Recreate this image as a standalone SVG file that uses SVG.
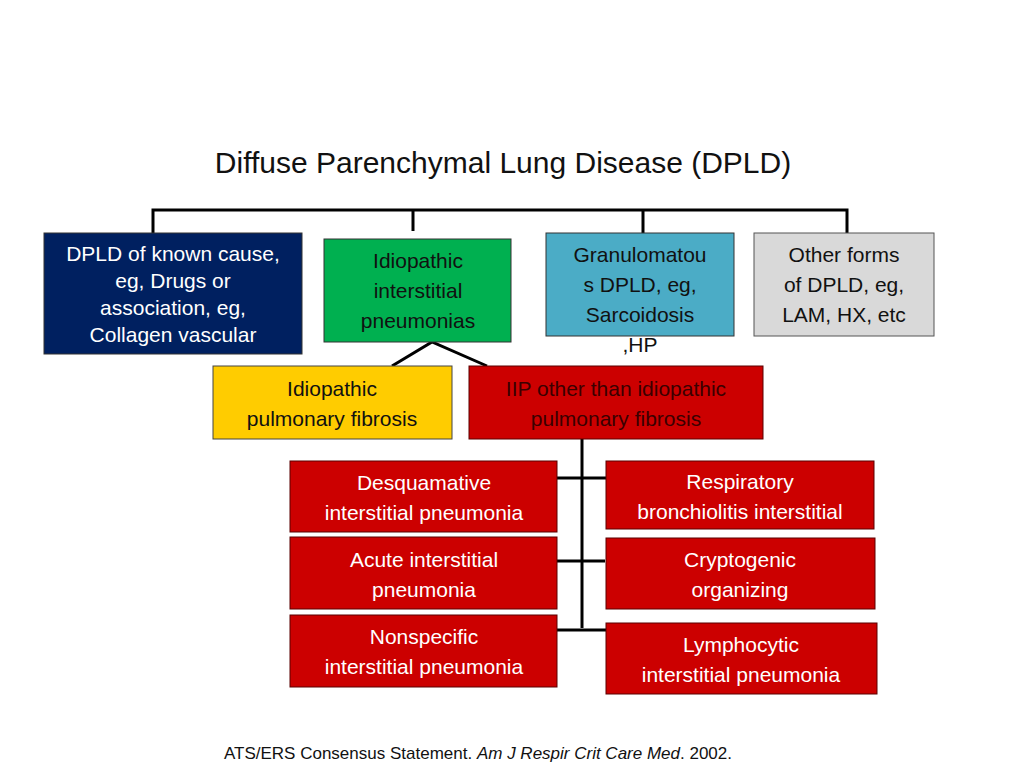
<svg xmlns="http://www.w3.org/2000/svg" width="1024" height="768" viewBox="0 0 1024 768">
<style>
text{font-family:"Liberation Sans",Arial,sans-serif;text-anchor:middle}
.t{font-size:21px}
.w{fill:#fff}
.k{fill:#111}
.dk{fill:#3a0000}
.red{fill:#cc0000;stroke:#5a0000;stroke-width:1}
.c{stroke:#000;stroke-width:3;fill:none}
</style>
<defs><clipPath id="c1"><rect x="44" y="233" width="258" height="121"/></clipPath></defs>
<rect width="1024" height="768" fill="#fff"/>
<text x="503" y="173" font-size="30" fill="#111">Diffuse Parenchymal Lung Disease (DPLD)</text>
<g id="connectors" class="c">
<path d="M153 235V210H847V234M413 210V231M643 210V234"/>
<path d="M392 366L432 342L487 366"/>
<path d="M582 425V628"/>
<path d="M557 478H606M557 561H605M557 630H606"/>
</g>
<g id="n1"><rect x="44" y="233" width="258" height="121" fill="#002060" stroke="#333"/>
<g clip-path="url(#c1)"><text class="t w" x="173" y="261">DPLD of known cause,</text><text class="t w" x="173" y="288">eg, Drugs or</text><text class="t w" x="173" y="315">association, eg,</text><text class="t w" x="173" y="342">Collagen vascular</text><text class="t w" x="173" y="369">disease</text></g></g>
<g id="n2"><rect x="324" y="239" width="187" height="103" fill="#00b050" stroke="#333"/><text class="t k" x="418" y="268">Idiopathic</text><text class="t k" x="418" y="298">interstitial</text><text class="t k" x="418" y="328">pneumonias</text></g>
<g id="n3"><rect x="546" y="233" width="188" height="103" fill="#4bacc6" stroke="#333"/><text class="t k" x="640" y="262">Granulomatou</text><text class="t k" x="640" y="292">s DPLD, eg,</text><text class="t k" x="640" y="322">Sarcoidosis</text><text class="t k" x="640" y="352">,HP</text></g>
<g id="n4"><rect x="754" y="233" width="180" height="103" fill="#d9d9d9" stroke="#555"/><text class="t k" x="844" y="262">Other forms</text><text class="t k" x="844" y="292">of DPLD, eg,</text><text class="t k" x="844" y="322">LAM, HX, etc</text></g>
<g id="n5"><rect x="213" y="366" width="239" height="73" fill="#ffcc00" stroke="#444"/><text class="t k" x="332" y="396">Idiopathic</text><text class="t k" x="332" y="426">pulmonary fibrosis</text></g>
<g id="n6"><rect x="469" y="366" width="294" height="73" class="red"/><text class="t dk" x="616" y="396">IIP other than idiopathic</text><text class="t dk" x="616" y="426">pulmonary fibrosis</text></g>
<g id="n7"><rect x="290" y="461" width="267" height="71" class="red"/><text class="t w" x="424" y="490">Desquamative</text><text class="t w" x="424" y="520">interstitial pneumonia</text></g>
<g id="n8"><rect x="290" y="537" width="267" height="72" class="red"/><text class="t w" x="424" y="567">Acute interstitial</text><text class="t w" x="424" y="597">pneumonia</text></g>
<g id="n9"><rect x="290" y="615" width="267" height="72" class="red"/><text class="t w" x="424" y="644">Nonspecific</text><text class="t w" x="424" y="674">interstitial pneumonia</text></g>
<g id="n10"><rect x="606" y="461" width="268" height="68" class="red"/><text class="t w" x="740" y="489">Respiratory</text><text class="t w" x="740" y="519">bronchiolitis interstitial</text></g>
<g id="n11"><rect x="606" y="538" width="269" height="71" class="red"/><text class="t w" x="740" y="567">Cryptogenic</text><text class="t w" x="740" y="597">organizing</text></g>
<g id="n12"><rect x="606" y="623" width="271" height="71" class="red"/><text class="t w" x="741" y="652">Lymphocytic</text><text class="t w" x="741" y="682">interstitial pneumonia</text></g>
<text x="478" y="759" font-size="17" fill="#111">ATS/ERS Consensus Statement. <tspan font-style="italic">Am J Respir Crit Care Med</tspan>. 2002.</text>
</svg>
